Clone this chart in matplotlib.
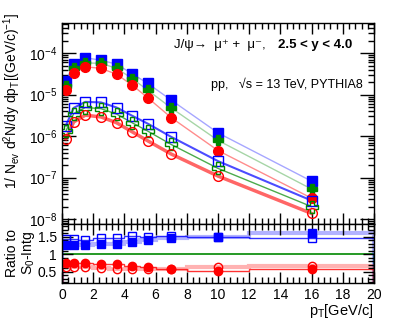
import numpy as np
import matplotlib
matplotlib.use("Agg")
from matplotlib import pyplot as plt
from matplotlib.ticker import MultipleLocator, LogLocator, NullFormatter

plt.rcParams['font.family'] = ['Liberation Sans', 'DejaVu Sans']
plt.rcParams['mathtext.fontset'] = 'custom'
plt.rcParams['mathtext.rm'] = 'Liberation Sans'
plt.rcParams['mathtext.it'] = 'Liberation Sans:italic'

### DATA

pt = [0.25, 0.75, 1.5, 2.5, 3.5, 4.5, 5.5, 7, 10, 16]
pt_edges = [0, 0.5, 1, 2, 3, 4, 5, 6, 8, 12, 20]

# spectra, filled markers (upper group)
blue_full = [2.15e-5, 5.6e-5, 7.7e-5, 6.8e-5, 5.4e-5, 3.2e-5, 1.86e-5, 7.4e-6, 1.2e-6, 8.2e-8]
green_full = [1.6e-5, 4.4e-5, 5.8e-5, 5.7e-5, 4.3e-5, 2.45e-5, 1.28e-5, 4.8e-6, 7.9e-7, 5.3e-8]
red_full = [1.33e-5, 3.35e-5, 4.7e-5, 4.3e-5, 3.1e-5, 1.7e-5, 8.4e-6, 2.8e-6, 4.5e-7, 3.2e-8]

# spectra, open markers (lower group)
blue_open = [1.8e-6, 4.8e-6, 6.7e-6, 6.5e-6, 4.9e-6, 3.1e-6, 2.0e-6, 9.6e-7, 2.5e-7, 2.8e-8]
green_open = [1.32e-6, 3.5e-6, 4.9e-6, 4.6e-6, 3.4e-6, 2.1e-6, 1.32e-6, 6.3e-7, 1.67e-7, 2.0e-8]
red_open = [8.6e-7, 2.2e-6, 3.2e-6, 2.9e-6, 2.1e-6, 1.27e-6, 7.7e-7, 3.7e-7, 1.09e-7, 1.37e-8]

# ratios to S0-Intg
ratio_blue_full = [1.25, 1.25, 1.25, 1.29, 1.29, 1.34, 1.41, 1.47, 1.49, 1.60]
ratio_blue_open = [1.43, 1.44, 1.41, 1.46, 1.47, 1.51, 1.49, 1.53, 1.50, 1.46]
ratio_red_full = [0.74, 0.74, 0.74, 0.72, 0.71, 0.67, 0.62, 0.58, 0.53, 0.58]
ratio_red_open = [0.63, 0.63, 0.62, 0.60, 0.58, 0.57, 0.57, 0.58, 0.63, 0.67]
ratio_green = [1, 1, 1, 1, 1, 1, 1, 1, 1, 1]

BLUE = '#0000ff'
GREEN = '#008800'
RED = '#ff0000'


def style_axis(ax):
    ax.tick_params(which='both', direction='in', top=True, right=True, labelsize=10)
    ax.tick_params(which='major', length=8, width=1)
    ax.tick_params(which='minor', length=4, width=1)
    for s in ax.spines.values():
        s.set_linewidth(1)


def main():
    fig = plt.figure(figsize=(4.16, 3.21), dpi=100)
    ax = fig.add_axes([0.149, 0.302, 0.75, 0.626])
    axr = fig.add_axes([0.149, 0.118, 0.75, 0.184], sharex=ax)

    ### TOP PANEL

    ax.plot(pt, blue_full, color=BLUE, lw=1, alpha=0.35)
    ax.plot(pt, green_full, color=GREEN, lw=1, alpha=0.35)
    ax.plot(pt, red_full, color=RED, lw=1, alpha=0.45)
    ax.plot(pt, blue_open, color=BLUE, lw=1.5, alpha=0.7)
    ax.plot(pt, green_open, color=GREEN, lw=1, alpha=0.7)
    ax.plot(pt, red_open, color=RED, lw=2.5, alpha=0.6)

    ax.plot(pt, blue_full, 's', color=BLUE, ms=6.5, ls='none')
    ax.plot(pt, green_full, 'P', color=GREEN, ms=7.5, ls='none')
    ax.plot(pt, red_full, 'o', color=RED, ms=7, ls='none')
    ax.plot(pt, blue_open, 's', mfc='none', mec=BLUE, mew=1, ms=7, ls='none')
    ax.plot(pt, green_open, 'P', mfc='none', mec=GREEN, mew=1, ms=8, ls='none')
    ax.plot(pt, red_open, 'o', mfc='none', mec=RED, mew=1, ms=7, ls='none')

    ax.set_yscale('log')
    ax.set_ylim(7.6e-9, 5.3e-4)
    ax.set_xlim(0, 20)
    ax.yaxis.set_major_locator(LogLocator(base=10, numticks=10))
    ax.yaxis.set_minor_locator(LogLocator(base=10, subs=np.arange(2, 10), numticks=20))
    ax.yaxis.set_minor_formatter(NullFormatter())
    ax.xaxis.set_major_locator(MultipleLocator(2))
    ax.xaxis.set_minor_locator(MultipleLocator(0.4))
    style_axis(ax)
    ax.tick_params(axis='y', which='major', length=10)
    ax.tick_params(labelbottom=False)

    ax.text(0.36, 0.89, 'J/ψ→  μ⁺ +  μ⁻,', transform=ax.transAxes,
            fontsize=9.5, ha='left', va='center')
    ax.text(0.692, 0.89, '2.5 < y < 4.0', transform=ax.transAxes,
            fontsize=9.5, ha='left', va='center', fontweight='bold')
    ax.text(0.478, 0.697, 'pp,   √s = 13 TeV, PYTHIA8', transform=ax.transAxes,
            fontsize=9, ha='left', va='center')

    ### RATIO PANEL

    axr.stairs(ratio_green, pt_edges, color=GREEN, lw=1.2)
    axr.stairs(ratio_blue_full, pt_edges, color=BLUE, lw=3, alpha=0.3)
    axr.stairs(ratio_blue_open, pt_edges, color=BLUE, lw=1, alpha=0.8)
    axr.stairs(ratio_red_full, pt_edges, color=RED, lw=1, alpha=0.8)
    axr.stairs(ratio_red_open, pt_edges, color=RED, lw=3, alpha=0.3)

    axr.plot(pt, ratio_blue_full, 's', color=BLUE, ms=5.5, ls='none')
    axr.plot(pt, ratio_blue_open, 's', mfc='none', mec=BLUE, mew=1, ms=6, ls='none')
    axr.plot(pt, ratio_red_full, 'o', color=RED, ms=6, ls='none')
    axr.plot(pt, ratio_red_open, 'o', mfc='none', mec=RED, mew=1, ms=6, ls='none')

    axr.set_ylim(0.17, 1.86)
    axr.set_xlim(0, 20)
    axr.set_yticks([0.5, 1, 1.5])
    axr.set_yticklabels(['0.5', '1', '1.5'])
    axr.yaxis.set_minor_locator(MultipleLocator(0.1))
    style_axis(axr)
    axr.tick_params(axis='both', which='major', length=8)

    axr.set_xlabel('p$_{\\mathrm{T}}$[GeV/c]', fontsize=10.5, loc='right', labelpad=0)

    fig.text(0.03, 0.685, '1/ N$_{\\mathrm{ev}}$ d$^{2}$N/dy dp$_{\\mathrm{T}}$[(GeV/c)$^{-1}$]',
             rotation=90, ha='center', va='center', fontsize=10)
    fig.text(0.05, 0.212, 'Ratio to\nS$_{0}$-Intg', rotation=90,
             ha='center', va='center', fontsize=10, linespacing=1.1)

    fig.savefig('out.png', dpi=100)


### CALLING MAIN

main()
